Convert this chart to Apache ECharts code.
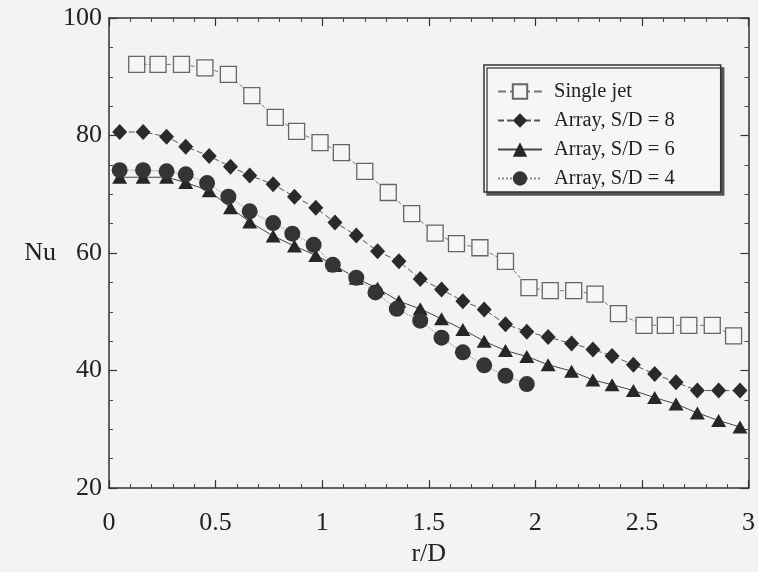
<!DOCTYPE html>
<html>
<head>
<meta charset="utf-8">
<script src="https://cdn.jsdelivr.net/npm/echarts@6/dist/echarts.min.js"></script>
<style>
html,body{margin:0;padding:0;background:#f3f3f3;}
#chart{width:758px;height:572px;}
</style>
</head>
<body>
<div id="chart"></div>
<script>
// Data
var seriesNames = ['Single jet', 'Array, S/D = 8', 'Array, S/D = 6', 'Array, S/D = 4'];
var singleX = [0.13,0.23,0.34,0.45,0.56,0.67,0.78,0.88,0.99,1.09,1.2,1.31,1.42,1.53,1.63,1.74,1.86,1.97,2.07,2.18,2.28,2.39,2.51,2.61,2.72,2.83,2.93];
var singleY = [92.1,92.1,92.1,91.5,90.4,86.8,83.1,80.7,78.8,77.1,73.9,70.3,66.7,63.4,61.6,60.9,58.6,54.1,53.6,53.6,53.0,49.7,47.7,47.7,47.7,47.7,45.9];
var arrayX = [0.05,0.16,0.27,0.36,0.47,0.57,0.66,0.77,0.87,0.97,1.06,1.16,1.26,1.36,1.46,1.56,1.66,1.76,1.86,1.96,2.06,2.17,2.27,2.36,2.46,2.56,2.66,2.76,2.86,2.96];
var sd8Y = [80.6,80.6,79.8,78.1,76.5,74.7,73.2,71.7,69.6,67.7,65.2,63.0,60.3,58.6,55.6,53.8,51.8,50.4,47.9,46.6,45.7,44.6,43.6,42.5,41.0,39.4,38.0,36.6,36.6,36.6];
var sd6Y = [72.9,72.9,72.9,72.0,70.6,67.7,65.3,62.9,61.2,59.6,57.9,55.7,54.0,51.8,50.5,48.8,47.0,45.0,43.4,42.4,41.0,39.9,38.4,37.6,36.6,35.4,34.3,32.8,31.5,30.4];
var sd4X = [0.05,0.16,0.27,0.36,0.46,0.56,0.66,0.77,0.86,0.96,1.05,1.16,1.25,1.35,1.46,1.56,1.66,1.76,1.86,1.96];
var sd4Y = [74.1,74.1,73.9,73.4,71.9,69.6,67.1,65.1,63.3,61.4,58.0,55.8,53.3,50.5,48.5,45.6,43.1,40.9,39.1,37.7];
var xTicks = ['0','0.5','1','1.5','2','2.5','3'];
var yTicks = ['20','40','60','80','100'];

function pairs(xs, ys){ return xs.map(function(x,i){ return [x, ys[i]]; }); }

var serif = 'Liberation Serif';
var ink = '#222';

function axisLine(){ return {show: true, onZero: false, lineStyle: {color: '#333', width: 1.5}}; }
function axisTick(){ return {show: true, inside: true, length: 8, lineStyle: {color: '#333', width: 1.2}}; }
function minorTick(n){ return {show: true, splitNumber: n, length: 4, lineStyle: {color: '#444', width: 1}}; }

var chart = echarts.init(document.getElementById('chart'), null, {renderer: 'canvas'});
var option = {
  backgroundColor: '#f3f3f3',
  animation: false,
  grid: {left: 109, right: 7, top: 18, bottom: 82, containLabel: false},
  legend: {
    data: seriesNames,
    orient: 'vertical',
    left: 484, top: 65,
    padding: [16, 46, 3, 13],
    itemGap: 8,
    itemWidth: 44,
    itemHeight: 18,
    backgroundColor: '#f6f6f6',
    borderColor: '#333',
    borderWidth: 1.5,
    shadowColor: '#555',
    shadowOffsetX: 3,
    shadowOffsetY: 3,
    shadowBlur: 0,
    textStyle: {fontFamily: serif, fontSize: 20.5, color: ink, padding: [0, 0, 0, 7]}
  },
  xAxis: [
    {
      type: 'value', min: 0, max: 3, interval: 0.5, position: 'bottom',
      axisLine: axisLine(), axisTick: axisTick(), minorTick: minorTick(5), splitLine: {show: false},
      axisLabel: {fontFamily: serif, fontSize: 26, color: ink, margin: 22,
        formatter: function(v){ var i = Math.round(v/0.5); return xTicks[i] !== undefined ? xTicks[i] : ''; }},
      name: 'r/D', nameLocation: 'middle', nameGap: 52,
      nameTextStyle: {fontFamily: serif, fontSize: 26, color: ink}
    },
    {
      type: 'value', min: 0, max: 3, interval: 0.5, position: 'top',
      axisLine: axisLine(), axisTick: axisTick(), minorTick: minorTick(5), splitLine: {show: false},
      axisLabel: {show: false}
    }
  ],
  yAxis: [
    {
      type: 'value', min: 20, max: 100, interval: 20, position: 'left',
      axisLine: axisLine(), axisTick: axisTick(), minorTick: minorTick(4), splitLine: {show: false},
      axisLabel: {fontFamily: serif, fontSize: 26, color: ink, margin: 7,
        formatter: function(v){ var i = Math.round((v-20)/20); return yTicks[i] !== undefined ? yTicks[i] : ''; }},
      name: 'Nu', nameLocation: 'middle', nameRotate: 0, nameGap: 53,
      nameTextStyle: {fontFamily: serif, fontSize: 26, color: ink}
    },
    {
      type: 'value', min: 20, max: 100, interval: 20, position: 'right',
      axisLine: axisLine(), axisTick: axisTick(), minorTick: minorTick(4), splitLine: {show: false},
      axisLabel: {show: false}
    }
  ],
  series: [
    {
      name: seriesNames[0], type: 'line', xAxisIndex: 0, yAxisIndex: 0,
      data: pairs(singleX, singleY),
      symbol: 'rect', symbolSize: 16,
      itemStyle: {color: '#f6f6f6', borderColor: '#666', borderWidth: 1.3},
      lineStyle: {color: '#777', width: 1, type: 'dashed'}
    },
    {
      name: seriesNames[1], type: 'line', xAxisIndex: 0, yAxisIndex: 0,
      data: pairs(arrayX, sd8Y),
      symbol: 'diamond', symbolSize: [15, 16],
      itemStyle: {color: '#2a2a2a', borderColor: '#2a2a2a', borderWidth: 0},
      lineStyle: {color: '#555', width: 1, type: [6, 3]}
    },
    {
      name: seriesNames[2], type: 'line', xAxisIndex: 0, yAxisIndex: 0,
      data: pairs(arrayX, sd6Y),
      symbol: 'triangle', symbolSize: [15, 13],
      itemStyle: {color: '#262626', borderColor: '#262626', borderWidth: 0},
      lineStyle: {color: '#444', width: 1, type: 'solid'}
    },
    {
      name: seriesNames[3], type: 'line', xAxisIndex: 0, yAxisIndex: 0,
      data: pairs(sd4X, sd4Y),
      symbol: 'circle', symbolSize: 16,
      itemStyle: {color: '#343434', borderColor: '#2a2a2a', borderWidth: 0},
      lineStyle: {color: '#888', width: 1, type: 'dotted'}
    }
  ]
};
chart.setOption(option);
</script>
</body>
</html>
